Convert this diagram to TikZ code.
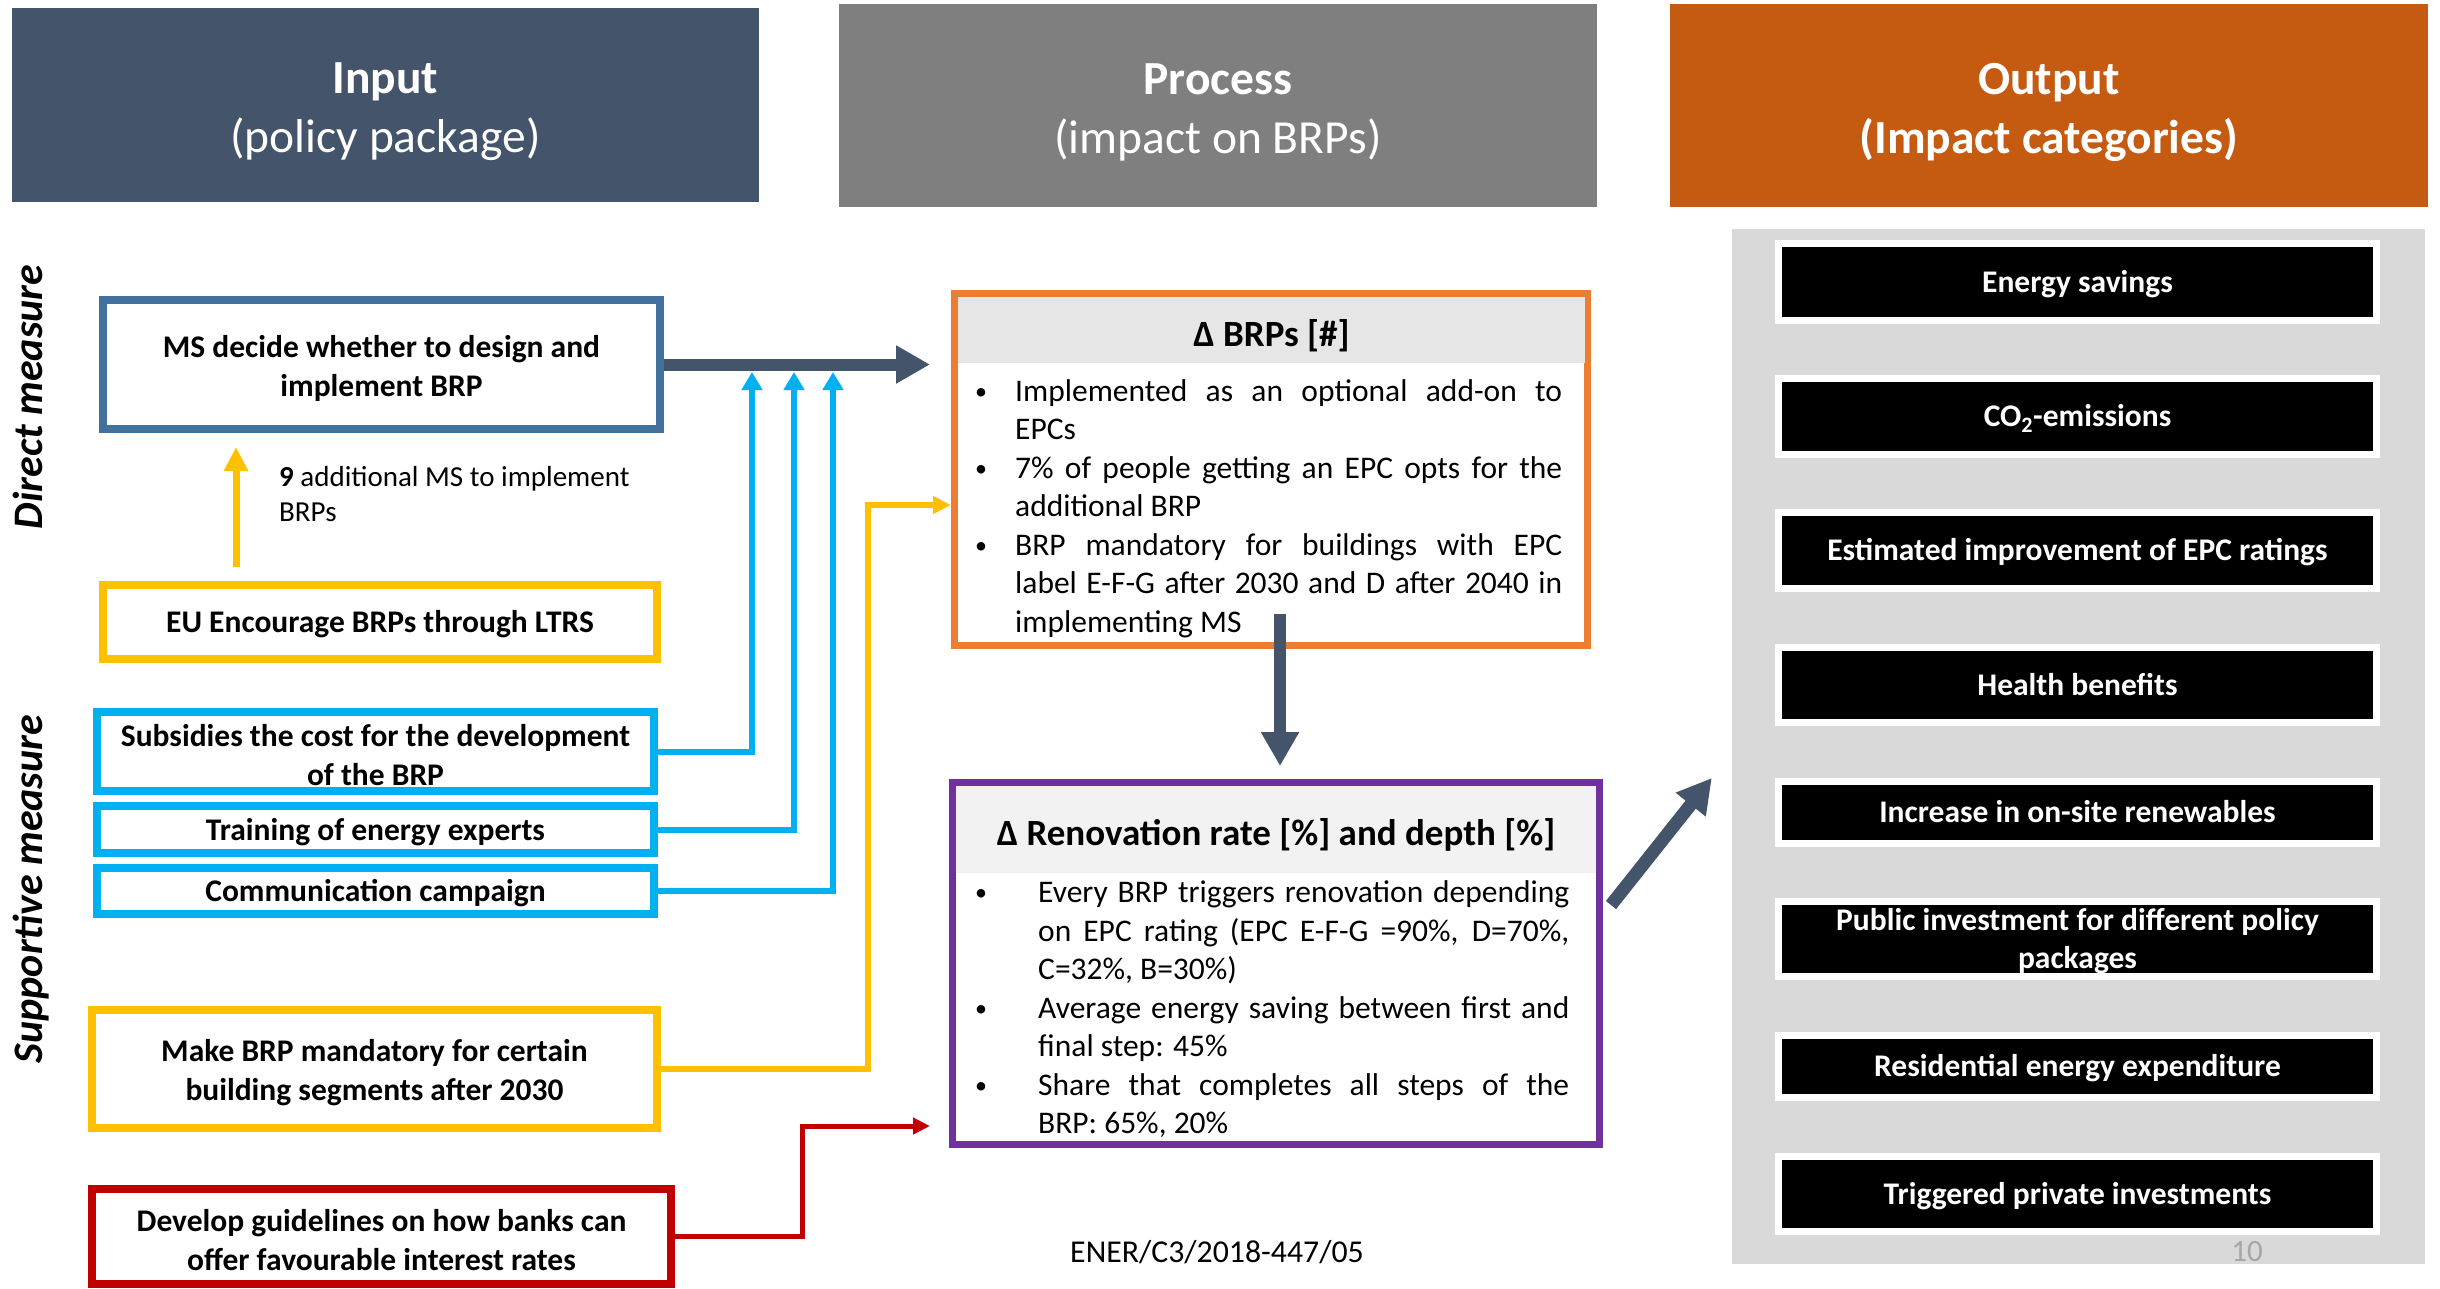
\documentclass[tikz,border=0pt]{standalone}
\usepackage{fontspec}
\setmainfont{Carlito}
\usetikzlibrary{arrows.meta}

\definecolor{slate}{HTML}{44546A}
\definecolor{midgrey}{HTML}{7F7F7F}
\definecolor{rust}{HTML}{C55A11}
\definecolor{panelgrey}{HTML}{D9D9D9}
\definecolor{msblue}{HTML}{41719C}
\definecolor{gold}{HTML}{FFC000}
\definecolor{sky}{HTML}{00B0F0}
\definecolor{crimson}{HTML}{C00000}
\definecolor{brpsline}{HTML}{ED7D31}
\definecolor{renline}{HTML}{7030A0}
\definecolor{bandgrey}{HTML}{E7E6E6}
\definecolor{paleband}{HTML}{F2F2F2}
\definecolor{pagegrey}{HTML}{A6A6A6}

\newcommand{\smalldot}{\raisebox{2pt}{\fontsize{24}{24}\selectfont\textbullet}}
\newenvironment{dotlist}[1]{%
  \begin{list}{\smalldot}{%
    \setlength{\leftmargin}{#1}%
    \setlength{\labelwidth}{12pt}%
    \setlength{\labelsep}{\dimexpr#1-12pt\relax}%
    \setlength{\itemsep}{0pt}\setlength{\parsep}{0pt}%
    \setlength{\topsep}{0pt}\setlength{\partopsep}{0pt}%
    \renewcommand{\makelabel}[1]{##1\hfil}}%
}{\end{list}}

\hyphenpenalty=10000
\exhyphenpenalty=10000
\tolerance=10000

\begin{document}
\begin{tikzpicture}[
                x=1pt, y=-1pt,
                head/.style={inner sep=0pt, text=white, align=center, text height=104pt, font=\fontsize{47.5}{59}\selectfont},
                side/.style={rotate=90, font=\fontsize{42}{50}\selectfont\bfseries\itshape},
                measure/.style={draw, line width=8pt, inner sep=0pt, align=center, text height=27pt, font=\fontsize{31.5}{38.5}\selectfont\bfseries},
                twoline/.style={text height=68pt},
                impact/.style={fill=black, draw=white, line width=7pt, minimum width=598pt, inner sep=0pt, text=white, align=center, text height=27pt, text depth=7pt, font=\fontsize{31.5}{38}\selectfont\bfseries},
                band/.style={inner sep=0pt, text height=38pt, font=\fontsize{37}{44}\selectfont\bfseries},
                bullets/.style={anchor=north west, inner sep=0pt, align=justify, font=\fontsize{31.5}{38.5}\selectfont},
                bigarrow/.style={draw=slate, line width=12pt, -{Triangle[width=36pt,length=34pt]}},
                thinarrow/.style={line width=6pt, -{Triangle[width=20pt,length=18pt]}},
            ]
                \useasboundingbox (0,0) rectangle (2440,1288);

                \node[head, fill=slate, minimum width=747pt, minimum height=194pt] (inputhead) at (385.5,105) {\textbf{Input}\\(policy package)};
                \node[head, fill=midgrey, minimum width=758pt, minimum height=203pt] (processhead) at (1218,105.5) {\textbf{Process}\\(impact on BRPs)};
                \node[head, fill=rust, minimum width=758pt, minimum height=203pt] (outputhead) at (2049,105.5) {\textbf{Output}\\\textbf{(Impact categories)}};

                \node[side] (direct) at (28,397) {Direct measure};
                \node[side] (supportive) at (31,889) {Supportive measure};

                \node[fill=panelgrey, minimum width=693pt, minimum height=1035pt, inner sep=0pt] (panel) at (2078.5,746.5) {};
                \node[impact, minimum height=77pt] (energy) at (2077.5,282) {Energy savings};
                \node[impact, minimum height=76pt] (co2) at (2077.5,416.5) {CO\textsubscript{2}-emissions};
                \node[impact, minimum height=76pt] (epc) at (2077.5,550.5) {Estimated improvement of EPC ratings};
                \node[impact, minimum height=75pt] (health) at (2077.5,685) {Health benefits};
                \node[impact, minimum height=62pt] (renew) at (2077.5,812.5) {Increase in on-site renewables};
                \node[impact, minimum height=75pt, text height=65pt] (public) at (2077.5,939) {Public investment for different policy\\packages};
                \node[impact, minimum height=62pt] (expend) at (2077.5,1066.5) {Residential energy expenditure};
                \node[impact, minimum height=75pt] (invest) at (2077.5,1194) {Triggered private investments};

                \node[measure, twoline, draw=msblue, minimum width=557pt, minimum height=129pt] (ms) at (381.5,364.5) {MS decide whether to design and\\implement BRP};
                \node[measure, draw=gold, minimum width=554pt, minimum height=74pt] (eu) at (380,622) {EU Encourage BRPs through LTRS};
                \node[anchor=west, inner sep=0pt, align=left, font=\fontsize{29}{35.5}\selectfont] (nine) at (279,494) {\textbf{9} additional MS to implement\\BRPs};
                \node[measure, twoline, draw=sky, minimum width=557pt, minimum height=79pt] (subs) at (375.5,751.5) {Subsidies the cost for the development\\of the BRP};
                \node[measure, draw=sky, minimum width=557pt, minimum height=47pt] (train) at (375.5,829.5) {Training of energy experts};
                \node[measure, draw=sky, minimum width=557pt, minimum height=46pt] (comm) at (375.5,891) {Communication campaign};
                \node[measure, twoline, draw=gold, minimum width=565pt, minimum height=118pt] (make) at (374.5,1069) {Make BRP mandatory for certain\\building segments after 2030};
                \node[measure, twoline, draw=crimson, minimum width=579pt, minimum height=95pt] (dev) at (381.5,1236.5) {Develop guidelines on how banks can\\offer favourable interest rates};

                \node[draw=brpsline, line width=7pt, minimum width=633pt, minimum height=352pt, inner sep=0pt] (brps) at (1271,469.5) {};
                \node[band, fill=bandgrey, minimum width=627pt, minimum height=66pt] (brpshead) at (1271.5,330) {Δ BRPs [\#]};
                \node[bullets, text width=587pt] (brpslist) at (975,362.5) {\begin{dotlist}{40pt}
                    \item\strut Implemented as an optional add-on to\linebreak EPCs
                    \item 7\% of people getting an EPC opts for the\linebreak additional BRP
                    \item BRP mandatory for buildings with EPC\linebreak label E-F-G after 2030 and D after 2040 in\linebreak implementing MS
                \end{dotlist}};

                \node[draw=renline, line width=7pt, minimum width=647pt, minimum height=362pt, inner sep=0pt] (ren) at (1276,963.5) {};
                \node[band, fill=paleband, minimum width=640pt, minimum height=87pt] (renhead) at (1276,829.5) {Δ Renovation rate [\%] and depth [\%]};
                \node[bullets, text width=594pt] (renlist) at (975,864) {\begin{dotlist}{63pt}
                    \item\strut Every BRP triggers renovation depending\linebreak on EPC rating (EPC E-F-G =90\%, D=70\%,\linebreak C=32\%, B=30\%)
                    \item Average energy saving between first and\linebreak final step: 45\%
                    \item Share that completes all steps of the\linebreak BRP: 65\%, 20\%
                \end{dotlist}};

                \node[font=\fontsize{31.8}{38}\selectfont] (ref) at (1217,1252) {ENER/C3/2018-447/05};
                \node[text=pagegrey, font=\fontsize{31}{37}\selectfont] (page) at (2247,1252) {10};

                \coordinate (brpsin) at (930,364.5);
                \coordinate (tipA) at (752,372);
                \coordinate (tipB) at (794,372);
                \coordinate (tipC) at (833,372);
                \coordinate (mandknee) at (868,505);
                \coordinate (bankknee) at (802,1126);
                \coordinate (bankin) at (930,1126);

                \draw[bigarrow] (ms.east) -- (brpsin);
                \draw[thinarrow, draw=sky] (subs.east) -| (tipA);
                \draw[thinarrow, draw=sky] (train.east) -| (tipB);
                \draw[thinarrow, draw=sky] (comm.east) -| (tipC);
                \draw[draw=gold, line width=7pt, -{Triangle[width=23pt,length=24pt]}, shorten <=14pt, shorten >=14pt] ([xshift=-144pt]eu.north) -- ([xshift=-144pt]eu.north |- ms.south);
                \draw[draw=gold, line width=6pt, -{Triangle[width=17pt,length=18pt]}] (make.east) -| (mandknee) -- (mandknee -| brps.west);
                \draw[draw=crimson, line width=5pt, -{Triangle[width=16pt,length=17pt]}] (dev.east) -| (bankknee) -- (bankin);
                \draw[bigarrow] ([xshift=9pt,yshift=35pt]brps.south) -- ([xshift=4pt,yshift=13pt]ren.north);
                \draw[bigarrow, line width=13pt] ([shift={(8,-58.5)}]ren.east) -- ([shift={(-20,31.5)}]panel.west);

            \end{tikzpicture}
\end{document}
